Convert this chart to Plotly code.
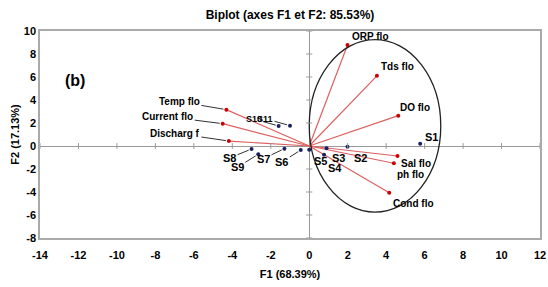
import plotly.graph_objects as go

# Variables (loadings scaled)
var_names = ["ORP flo", "Tds flo", "DO flo", "Sal flo", "ph flo", "Cond flo",
             "Temp flo", "Current flo", "Discharg f"]
var_f1 = [1.99, 3.52, 4.63, 4.59, 4.40, 4.16, -4.31, -4.50, -4.18]
var_f2 = [8.78, 6.10, 2.64, -0.87, -1.50, -4.06, 3.16, 1.94, 0.43]

# Observations
obs_names = ["S1", "S2", "S3", "S4", "S5", "S6", "S7", "S8", "S9", "S10", "S11"]
obs_f1 = [5.77, 1.99, 0.90, 0.77, 0.00, -0.44, -1.29, -3.00, -2.65, -1.59, -1.00]
obs_f2 = [0.20, -0.06, -0.20, -0.76, -0.32, -0.35, -0.23, -0.26, -0.72, 1.74, 1.77]

# Ellipse
ell_cx, ell_cy, ell_rx, ell_ry = 3.42, 1.75, 3.42, 7.5

x_ticks = list(range(-14, 13, 2))
y_ticks = list(range(-8, 11, 2))
x_ticktext = [str(v) for v in x_ticks]
y_ticktext = [str(v) for v in y_ticks]

FONT = "Arial, Liberation Sans, sans-serif"

fig = go.Figure()

# vectors
lx, ly = [], []
for a, b in zip(var_f1, var_f2):
    lx += [0, a, None]
    ly += [0, b, None]
fig.add_trace(go.Scatter(x=lx, y=ly, mode="lines",
                         line=dict(color="#dd6060", width=1.2), hoverinfo="skip"))
fig.add_trace(go.Scatter(x=var_f1, y=var_f2, mode="markers",
                         marker=dict(color="#cc0000", size=4), hoverinfo="skip"))
fig.add_trace(go.Scatter(x=obs_f1, y=obs_f2, mode="markers",
                         marker=dict(color="#1a2060", size=4), hoverinfo="skip"))

shapes = []
# ellipse
shapes.append(dict(type="circle", xref="x", yref="y",
                   x0=ell_cx - ell_rx, x1=ell_cx + ell_rx,
                   y0=ell_cy - ell_ry, y1=ell_cy + ell_ry,
                   line=dict(color="#222222", width=1.3)))
# cross ticks on zero lines
for xv in x_ticks:
    if xv != 0:
        shapes.append(dict(type="line", xref="x", yref="y", x0=xv, x1=xv,
                           y0=-0.25, y1=0.25, line=dict(color="#999999", width=1)))
for yv in y_ticks:
    if yv != 0:
        shapes.append(dict(type="line", xref="x", yref="y", x0=-0.16, x1=0.16,
                           y0=yv, y1=yv, line=dict(color="#999999", width=1)))

annotations = []
var_shift = {
    "ORP flo": (22, 9), "Tds flo": (21, 9), "DO flo": (17, 8),
    "Sal flo": (18, -7), "ph flo": (17, -11), "Cond flo": (24, -11),
}
var_leader = {
    "Temp flo": (-47, -8), "Current flo": (-55, -7), "Discharg f": (-54, -8),
}
for n, a, b in zip(var_names, var_f1, var_f2):
    if n in var_shift:
        xs, ys = var_shift[n]
        annotations.append(dict(x=a, y=b, text=n, showarrow=False,
                                xshift=xs, yshift=ys,
                                font=dict(family=FONT, size=10, color="black", weight="bold")))
    else:
        ax, ay = var_leader[n]
        annotations.append(dict(x=a, y=b, text=n, showarrow=True,
                                arrowhead=0, arrowwidth=1, arrowcolor="#333333",
                                ax=ax, ay=ay, standoff=3,
                                font=dict(family=FONT, size=10, color="black", weight="bold")))

obs_shift = {
    "S1": (11, 7), "S2": (13, -11), "S3": (12, -10), "S4": (11, -13), "S5": (11, -11),
}
obs_leader = {
    "S6": (-19, 12), "S7": (-21, 10), "S8": (-22, 9), "S9": (-21, 13),
    "S10": (-25, -7), "S11": (-25, -7),
}
for n, a, b in zip(obs_names, obs_f1, obs_f2):
    if n in obs_shift:
        xs, ys = obs_shift[n]
        annotations.append(dict(x=a, y=b, text=n, showarrow=False,
                                xshift=xs, yshift=ys,
                                font=dict(family=FONT, size=11, color="black", weight="bold")))
    else:
        ax, ay = obs_leader[n]
        small = n in ("S10", "S11")
        annotations.append(dict(x=a, y=b, text=n, showarrow=True,
                                arrowhead=0, arrowwidth=1, arrowcolor="#333333",
                                ax=ax, ay=ay, standoff=3,
                                font=dict(family=FONT, size=9 if small else 11,
                                          color="black", weight="bold")))

annotations.append(dict(x=-12.2, y=5.7, text="(b)", showarrow=False,
                        font=dict(family=FONT, size=16, color="black", weight="bold")))

fig.update_layout(
    width=548, height=287,
    margin=dict(l=40, r=8, t=31, b=49, autoexpand=False),
    paper_bgcolor="white", plot_bgcolor="white",
    showlegend=False,
    title=dict(text="Biplot (axes F1 et F2: 85.53%)", x=0.5, xanchor="center",
               xref="paper", y=0.948, yanchor="middle", yref="container",
               automargin=False,
               font=dict(family=FONT, size=12, color="black", weight="bold")),
    xaxis=dict(range=[-14, 12], tickvals=x_ticks, ticktext=x_ticktext, showgrid=False,
               zeroline=True, zerolinecolor="#999999", zerolinewidth=1,
               showline=True, linecolor="#aaaaaa", linewidth=1.5, mirror=True,
               ticks="outside", ticklen=6, tickcolor="rgba(0,0,0,0)", automargin=False,
               tickfont=dict(family=FONT, size=11, color="black", weight="bold"),
               title=dict(text="F1 (68.39%)", standoff=10,
                          font=dict(family=FONT, size=11, color="black", weight="bold"))),
    yaxis=dict(range=[-8, 10], tickvals=y_ticks, ticktext=y_ticktext, showgrid=False,
               zeroline=True, zerolinecolor="#999999", zerolinewidth=1,
               showline=True, linecolor="#aaaaaa", linewidth=1.5, mirror=True,
               ticks="", automargin=False,
               tickfont=dict(family=FONT, size=11, color="black", weight="bold"),
               title=dict(text="F2 (17.13%)", standoff=2,
                          font=dict(family=FONT, size=11, color="black", weight="bold"))),
    shapes=shapes, annotations=annotations,
)

fig.write_html("out.html",
               config={"displayModeBar": False},
               post_script="document.body.style.margin='0';"
                           "document.documentElement.style.overflow='hidden';")
